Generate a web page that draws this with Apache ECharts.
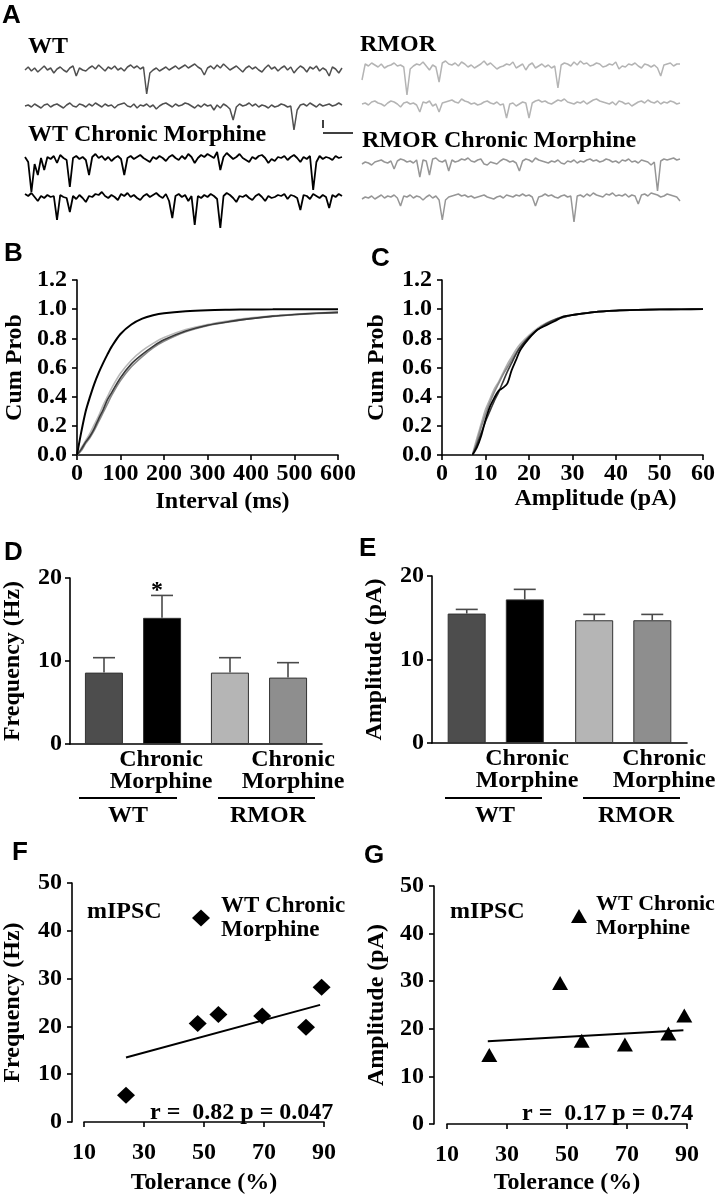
<!DOCTYPE html>
<html><head><meta charset="utf-8">
<script src="https://cdn.jsdelivr.net/npm/echarts@6/dist/echarts.min.js"></script>
<style>html,body{margin:0;padding:0;background:#fff}#c{width:718px;height:1199px}</style>
</head><body><div id="c"></div>
<script>
// ---------- Panel A: example mIPSC traces (hand-read, px-like units, 0 = baseline, negative = inward) ----------
const traceWT1 = [0,3,-1,2,-2,1,4,0,2,-3, 1,3,0,-2,2,4,-6,2,0,-1, 2,4,1,5,2,-1,3,1,4,0, 2,-1,3,5,2,4,1,3,-24,-3,
  0,2,-1,1,3,0,2,4,1,3, 5,2,4,6,3,1,-5,2,4,1, 5,2,6,3,0,2,4,1,-2,2, 4,1,3,0,-2,2,5,1,3,-1, 2,4,0,3,-3,1,4,2,-2,3, 1,4,-1,2,0,-6,3,1,-3,2];
const traceWT2 = [0,1,-1,2,0,-2,1,2,-1,1, 2,0,-2,1,3,0,-1,2,1,-1, 2,0,3,1,-1,2,0,1,-2,1, 2,3,0,-1,2,-2,1,0,2,-1,
  1,-3,0,2,3,1,-1,2,0,1, 3,2,0,-2,1,-1,2,0,1,-4, 1,-2,2,0,-3,-14,-1,2,0,1, 3,0,2,-1,1,0,-2,1,-1,0, 2,1,-1,0,-24,-4,1,2,0,3, 1,-1,2,0,1,2,0,1,3,1];
const traceWTCM1 = [3,-2,-32,-4,-15,2,-10,3,1,4, -3,5,2,0,-27,2,4,1,3,0, -15,3,6,2,4,0,3,-1,2,4, 1,-15,2,4,1,3,5,2,0,-2,
  3,1,4,2,-1,3,5,2,0,4, 1,6,3,-3,2,5,3,6,4,2, 8,-10,3,7,4,1,3,6,2,0, -2,3,1,4,5,2,-3,1,-1,3, 2,4,0,3,5,2,-2,3,1,4, -30,-2,4,1,3,2,0,4,2,3];
const traceWTCM2 = [4,2,5,1,-3,2,0,3,1,2, -22,3,1,0,-14,2,-1,3,0,-4, 2,1,4,3,6,2,0,3,1,-2, 4,2,5,1,3,0,-2,2,4,1,
  3,5,2,0,4,-3,-20,2,4,1, 3,-3,2,-27,2,0,3,1,4,2, -1,-30,2,5,3,0,-4,2,1,3, 0,-2,2,4,1,-3,2,0,1,3, 2,4,-1,3,2,0,-12,3,2,-1, 4,2,0,3,1,-10,3,1,4,2];
const traceRMOR1 = [-13,3,1,4,2,0,3,-1,1,2, 4,1,2,0,-28,-2,1,3,2,5, 1,-3,2,0,-15,4,6,3,2,4, 1,5,3,0,2,-1,1,3,6,2,
  4,1,-2,0,1,3,2,5,-1,1, 3,-3,2,4,-1,1,3,0,2,-1, 1,-21,2,4,3,1,5,2,6,3, 4,1,2,4,3,0,1,3,2,5, -2,1,0,3,2,4,1,-1,3,2, 0,2,-1,-9,2,3,4,1,3,3];
const traceRMOR2 = [0,1,-1,2,3,1,0,-2,1,3, 2,0,-3,1,2,0,1,-1,-8,2, 1,3,-2,0,-8,1,2,3,4,2, 1,5,3,2,0,1,-1,0,2,3,
  1,0,2,-1,0,-14,0,1,-2,0, 2,1,-14,1,3,4,2,3,1,0, 2,4,3,5,2,1,0,2,1,3, 0,2,4,5,3,2,1,0,2,-1, 3,2,0,1,-2,0,2,3,1,4, 2,1,3,0,2,1,3,2,0,1];
const traceRMORCM1 = [-1,1,0,-2,1,2,3,1,0,2, -6,2,4,3,1,2,0,3,-14,3, 2,-12,4,5,2,1,3,-8,3,1, 2,4,3,5,2,1,3,4,-1,-2,
  1,0,-1,2,4,3,1,2,0,-8, 2,4,3,1,5,3,2,1,0,2, 1,3,0,-1,2,1,3,0,2,1, 3,4,2,3,1,2,4,3,1,2, 0,3,2,4,1,2,0,3,2,1, -2,1,-28,2,4,3,4,5,3,4];
const traceRMORCM2 = [-1,1,0,2,-1,1,3,0,2,1, 3,0,-8,2,1,3,0,2,1,-2, 1,3,0,2,-2,-22,-2,1,2,3, 4,2,3,1,2,0,1,2,3,1,
  0,-1,1,2,0,3,2,1,3,2, 4,2,3,1,-8,1,2,4,2,3, 1,0,2,3,1,2,-24,2,3,1, 4,2,5,3,2,1,4,3,5,2, 3,2,4,1,3,2,-6,3,4,2, 5,4,3,1,2,4,3,2,1,-3];

// ---------- Panel B: cumulative probability vs inter-event interval ----------
const intervalMs = [0,10,20,30,40,50,60,70,80,100,125,150,175,200,250,300,350,400,450,500,550,600];
const cumIntWTCM   = [0,0.16,0.30,0.40,0.49,0.565,0.63,0.69,0.745,0.83,0.895,0.935,0.958,0.972,0.986,0.993,0.996,0.998,0.999,1,1,1];
const cumIntWT     = [0,0.04,0.09,0.13,0.185,0.25,0.31,0.38,0.43,0.53,0.625,0.69,0.745,0.79,0.85,0.89,0.915,0.935,0.952,0.963,0.972,0.978];
const cumIntRMOR   = [0,0.05,0.10,0.15,0.21,0.27,0.34,0.40,0.46,0.56,0.65,0.715,0.765,0.805,0.86,0.895,0.92,0.94,0.955,0.965,0.973,0.98];
const cumIntRMORCM = [0,0.03,0.08,0.12,0.17,0.23,0.29,0.35,0.41,0.51,0.605,0.675,0.735,0.78,0.845,0.887,0.913,0.935,0.95,0.962,0.97,0.976];

// ---------- Panel C: cumulative probability vs amplitude ----------
const amplitudePA = [7,8,9,10,11,12,13,14,15,16,17,18,20,22,24,26,28,30,35,40,45,50,55,60];
const cumAmpRMOR   = [0,0.11,0.21,0.31,0.38,0.45,0.5,0.56,0.62,0.67,0.72,0.76,0.82,0.87,0.905,0.93,0.95,0.96,0.98,0.99,0.995,0.998,0.999,1];
const cumAmpWTCM   = [0,0.05,0.13,0.24,0.33,0.39,0.44,0.46,0.49,0.58,0.65,0.72,0.8,0.86,0.89,0.92,0.95,0.96,0.98,0.99,0.995,0.998,0.999,1];
const cumAmpWT     = [0,0.07,0.15,0.23,0.3,0.37,0.43,0.5,0.57,0.63,0.69,0.74,0.81,0.86,0.9,0.93,0.945,0.96,0.98,0.99,0.995,0.998,0.999,1];
const cumAmpRMORCM = [0,0.09,0.19,0.28,0.36,0.43,0.49,0.55,0.6,0.65,0.7,0.74,0.8,0.86,0.9,0.925,0.945,0.96,0.98,0.99,0.995,0.998,0.999,1];

// ---------- Panels D / E: bar means and SEM ----------
const genotypes = ['WT', 'RMOR'];
const freqControl = [8.6, 8.6];
const freqControlSem = [1.8, 1.8];
const freqChronic = [15.2, 8.0];
const freqChronicSem = [2.7, 1.8];
const ampControl = [15.5, 14.7];
const ampControlSem = [0.5, 0.7];
const ampChronic = [17.2, 14.7];
const ampChronicSem = [1.2, 0.7];

// ---------- Panels F / G: tolerance correlations ----------
const tolerancePct = [24, 47.9, 54.8, 69.4, 84, 89.2];
const freqHz = [5.6, 20.6, 22.5, 22.2, 19.8, 28.2];
const fitFreqX = [24, 88.7];
const fitFreqY = [13.5, 24.5];
const toleranceAmpPct = [24.1, 47.7, 54.9, 69.3, 83.8, 89.1];
const ampPA = [14.5, 29.6, 17.5, 16.7, 19.0, 22.8];
const fitAmpX = [23.6, 88.8];
const fitAmpY = [17.4, 19.7];
const tolTicks = [10, 90, 20];   // min, max, interval
const yTicksFG = [0, 50, 10];

// ---------- styles ----------
const SERIF = '"Liberation Serif","Times New Roman",serif';
const SANS = '"Liberation Sans",Arial,sans-serif';
const FS = 24;
const lbl = (m) => ({color:'#000', fontFamily:SERIF, fontWeight:'bold', fontSize:FS, margin:m, showMinLabel:true, showMaxLabel:true, hideOverlap:false});
const axLine = {show:true, lineStyle:{color:'#000', width:1.6}};
const tick = {show:true, inside:false, length:5, lineStyle:{color:'#000', width:1.6}};
const nameStyle = (pad) => ({color:'#000', fontFamily:SERIF, fontWeight:'bold', fontSize:FS, padding:pad||0});

const grids = [
  {left:77, top:280, width:261, height:175},   // 0 B
  {left:442, top:280, width:263, height:175},  // 1 C
  {left:70, top:578, width:252, height:166},   // 2 D
  {left:432, top:576, width:255, height:167},  // 3 E
  {left:84, top:883, width:240, height:239},   // 4 F
  {left:447, top:886, width:240, height:238},  // 5 G
];
const xAxes = [], yAxes = [], series = [];

// Panel B axes
xAxes.push({gridIndex:0, type:'value', min:0, max:600, interval:100, axisLine:axLine, axisTick:tick, axisLabel:lbl(7), splitLine:{show:false},
  name:'Interval (ms)', nameLocation:'middle', nameGap:35, nameTextStyle:nameStyle([0,0,0,30])});
yAxes.push({gridIndex:0, type:'value', min:0, max:1.2, interval:0.2, axisLine:axLine, axisTick:tick, splitLine:{show:false},
  axisLabel:Object.assign(lbl(10), {formatter:v=>v.toFixed(1)}), name:'Cum Prob', nameLocation:'middle', nameGap:50, nameTextStyle:nameStyle()});
// Panel C axes
xAxes.push({gridIndex:1, type:'value', min:0, max:60, interval:10, axisLine:axLine, axisTick:tick, axisLabel:lbl(7), splitLine:{show:false},
  name:'Amplitude (pA)', nameLocation:'middle', nameGap:28, nameTextStyle:nameStyle([0,0,0,46])});
yAxes.push({gridIndex:1, type:'value', min:0, max:1.2, interval:0.2, axisLine:axLine, axisTick:tick, splitLine:{show:false},
  axisLabel:Object.assign(lbl(10), {formatter:v=>v.toFixed(1)}), name:'Cum Prob', nameLocation:'middle', nameGap:53, nameTextStyle:nameStyle()});
// Panel D axes
xAxes.push({gridIndex:2, type:'category', data:genotypes, axisLine:axLine, axisTick:{show:false}, axisLabel:{show:false}});
yAxes.push({gridIndex:2, type:'value', min:0, max:20, interval:10, axisLine:axLine, axisTick:tick, axisLabel:lbl(8), splitLine:{show:false},
  name:'Frequency (Hz)', nameLocation:'middle', nameGap:45, nameTextStyle:nameStyle()});
// Panel E axes
xAxes.push({gridIndex:3, type:'category', data:genotypes, axisLine:axLine, axisTick:{show:false}, axisLabel:{show:false}});
yAxes.push({gridIndex:3, type:'value', min:0, max:20, interval:10, axisLine:axLine, axisTick:tick, axisLabel:lbl(8), splitLine:{show:false},
  name:'Amplitude (pA)', nameLocation:'middle', nameGap:45, nameTextStyle:nameStyle()});
// Panel F axes
xAxes.push({gridIndex:4, type:'value', min:tolTicks[0], max:tolTicks[1], interval:tolTicks[2], offset:13, axisLine:axLine, axisTick:tick, axisLabel:lbl(6), splitLine:{show:false},
  name:'Tolerance (%)', nameLocation:'middle', nameGap:36, nameTextStyle:nameStyle()});
yAxes.push({gridIndex:4, type:'value', min:yTicksFG[0], max:yTicksFG[1], interval:yTicksFG[2], offset:12, axisLine:axLine, axisTick:tick, axisLabel:lbl(10), splitLine:{show:false},
  name:'Frequency (Hz)', nameLocation:'middle', nameGap:47, nameTextStyle:nameStyle()});
// Panel G axes
xAxes.push({gridIndex:5, type:'value', min:tolTicks[0], max:tolTicks[1], interval:tolTicks[2], offset:13, axisLine:axLine, axisTick:tick, axisLabel:lbl(6), splitLine:{show:false},
  name:'Tolerance (%)', nameLocation:'middle', nameGap:34, nameTextStyle:nameStyle()});
yAxes.push({gridIndex:5, type:'value', min:yTicksFG[0], max:yTicksFG[1], interval:yTicksFG[2], offset:13, axisLine:axLine, axisTick:tick, axisLabel:lbl(10), splitLine:{show:false},
  name:'Amplitude (pA)', nameLocation:'middle', nameGap:45, nameTextStyle:nameStyle()});

// Panel B, C curves
const curve = (xi, xs, ys, color, w, z) => ({type:'line', xAxisIndex:xi, yAxisIndex:xi, data:xs.map((x,i)=>[x, ys[i]]),
  symbol:'none', smooth:0.3, lineStyle:{color:color, width:w}, z:z, silent:true});
series.push(curve(0, intervalMs, cumIntRMOR, '#b8b8b8', 1.6, 2));
series.push(curve(0, intervalMs, cumIntRMORCM, '#8a8a8a', 1.6, 2));
series.push(curve(0, intervalMs, cumIntWT, '#3a3a3a', 1.6, 3));
series.push(curve(0, intervalMs, cumIntWTCM, '#000000', 2, 4));
series.push(curve(1, amplitudePA, cumAmpRMOR, '#b0b0b0', 1.8, 2));
series.push(curve(1, amplitudePA, cumAmpRMORCM, '#8a8a8a', 1.6, 2));
series.push(curve(1, amplitudePA, cumAmpWT, '#3a3a3a', 1.6, 3));
series.push(curve(1, amplitudePA, cumAmpWTCM, '#000000', 1.8, 4));

// Panel D, E bars + error bars
const ctrlColors = ['#4d4d4d', '#b5b5b5'];
const chronColors = ['#000000', '#8e8e8e'];
function bars(ai, vals, colors) {
  return {type:'bar', xAxisIndex:ai, yAxisIndex:ai, barWidth:38, barGap:'53%',
    data:vals.map((v,i)=>({value:v, itemStyle:{color:colors[i], borderColor:'#333', borderWidth:1, opacity:1}})), silent:true, z:2};
}
function errRender(offset) {
  return function(params, api) {
    const x = api.value(0), v = api.value(1), e = api.value(2);
    const p0 = api.coord([x, v]); const p1 = api.coord([x, v + e]);
    const cx = p0[0] + offset;
    const st = {stroke:'#4a4a4a', lineWidth:1.6};
    return {type:'group', children:[
      {type:'line', shape:{x1:cx, y1:p0[1], x2:cx, y2:p1[1]}, style:st},
      {type:'line', shape:{x1:cx-11, y1:p1[1], x2:cx+11, y2:p1[1]}, style:st}
    ]};
  };
}
function errs(ai, vals, sems, offset) {
  return {type:'custom', xAxisIndex:ai, yAxisIndex:ai, renderItem:errRender(offset),
    data:vals.map((v,i)=>[i, v, sems[i]]), silent:true, z:3};
}
series.push(bars(2, freqControl, ctrlColors), bars(2, freqChronic, chronColors));
series.push(errs(2, freqControl, freqControlSem, -29), errs(2, freqChronic, freqChronicSem, 29));
series.push(bars(3, ampControl, ctrlColors), bars(3, ampChronic, chronColors));
series.push(errs(3, ampControl, ampControlSem, -29), errs(3, ampChronic, ampChronicSem, 29));

// Panel F, G scatter + fits
series.push({type:'scatter', name:'freqCM', xAxisIndex:4, yAxisIndex:4, symbol:'diamond', symbolSize:[18,17],
  itemStyle:{color:'#000', opacity:1}, data:tolerancePct.map((t,i)=>[t, freqHz[i]]), z:4, silent:true});
series.push({type:'line', xAxisIndex:4, yAxisIndex:4, symbol:'none', lineStyle:{color:'#000', width:2},
  data:fitFreqX.map((t,i)=>[t, fitFreqY[i]]), z:3, silent:true});
series.push({type:'scatter', name:'ampCM', xAxisIndex:5, yAxisIndex:5, symbol:'triangle', symbolSize:[16,14],
  itemStyle:{color:'#000', opacity:1}, data:toleranceAmpPct.map((t,i)=>[t, ampPA[i]]), z:4, silent:true});
series.push({type:'line', xAxisIndex:5, yAxisIndex:5, symbol:'none', lineStyle:{color:'#000', width:2},
  data:fitAmpX.map((t,i)=>[t, fitAmpY[i]]), z:3, silent:true});

// Panel A traces: each in its own hidden-axis grid
const traces = [
  {d:traceWT1, c:'#505050', w:1.5, left:25, cy:70, width:317},
  {d:traceWT2, c:'#505050', w:1.5, left:25, cy:106, width:317},
  {d:traceWTCM1, c:'#000000', w:1.8, left:25, cy:160, width:317},
  {d:traceWTCM2, c:'#000000', w:1.8, left:25, cy:198, width:317},
  {d:traceRMOR1, c:'#b4b4b4', w:1.5, left:362, cy:67, width:318},
  {d:traceRMOR2, c:'#b4b4b4', w:1.5, left:362, cy:104, width:318},
  {d:traceRMORCM1, c:'#969696', w:1.5, left:362, cy:163, width:318},
  {d:traceRMORCM2, c:'#969696', w:1.5, left:362, cy:198, width:318},
];
traces.forEach((t) => {
  const gi = grids.length;
  grids.push({left:t.left, top:t.cy - 8, width:t.width, height:42});
  xAxes.push({gridIndex:gi, type:'value', min:0, max:t.d.length - 1, show:false});
  yAxes.push({gridIndex:gi, type:'value', min:-34, max:8, show:false});
  series.push({type:'line', xAxisIndex:gi, yAxisIndex:gi, symbol:'none', silent:true,
    lineStyle:{color:t.c, width:t.w}, data:t.d.map((v,i)=>[i, v])});
});

// ---------- annotations ----------
const txt = (s, x, y, opts) => Object.assign({type:'text', x:x, y:y, silent:true,
  style:Object.assign({text:s, font:'bold ' + FS + 'px ' + SERIF, fill:'#000', align:'left', verticalAlign:'middle'}, opts || {})});
const letter = (s, x, y) => ({type:'text', x:x, y:y, silent:true,
  style:{text:s, font:'bold 26px ' + SANS, fill:'#000', align:'left', verticalAlign:'middle'}});
const hline = (x1, x2, y, w) => ({type:'line', silent:true, shape:{x1:x1, y1:y, x2:x2, y2:y}, style:{stroke:'#000', lineWidth:w || 2}});
const vline = (x, y1, y2) => ({type:'line', silent:true, shape:{x1:x, y1:y1, x2:x, y2:y2}, style:{stroke:'#000', lineWidth:1.5}});
const ctr = {align:'center'};
const cmText = {align:'center', lineHeight:22};

const graphics = [
  letter('A', 2, 16), letter('B', 4, 254), letter('C', 371, 259), letter('D', 4, 553),
  letter('E', 359, 549), letter('F', 12, 853), letter('G', 364, 856),
  txt('WT', 28, 47), txt('RMOR', 360, 45),
  txt('WT Chronic Morphine', 28, 135), txt('RMOR Chronic Morphine', 362, 141),
  vline(323, 120, 128), hline(323, 353, 133, 1.5),
  // D
  txt('*', 157, 591, ctr),
  txt('Chronic\nMorphine', 161, 771, cmText), txt('Chronic\nMorphine', 293, 771, cmText),
  hline(79, 177, 798), hline(218, 315, 798),
  txt('WT', 128, 816, ctr), txt('RMOR', 268, 816, ctr),
  // E
  txt('Chronic\nMorphine', 527, 770, cmText), txt('Chronic\nMorphine', 664, 770, cmText),
  hline(445, 542, 798), hline(583, 680, 798),
  txt('WT', 495, 816, ctr), txt('RMOR', 636, 816, ctr),
  // F, G
  txt('mIPSC', 87, 912), txt('r =  0.82 p = 0.047', 150, 1113),
  txt('mIPSC', 450, 912), txt('r =  0.17 p = 0.74', 522, 1114),
];

const legendText = (fs) => ({color:'#000', fontFamily:SERIF, fontWeight:'bold', fontSize:fs, lineHeight:24});
const option = {
  animation:false,
  backgroundColor:'#fff',
  grid:grids, xAxis:xAxes, yAxis:yAxes, series:series,
  legend:[
    {left:192, top:894, data:[{name:'freqCM', icon:'diamond'}], itemWidth:18, itemHeight:17, selectedMode:false,
      padding:0, formatter:()=>'WT Chronic\nMorphine', textStyle:Object.assign({padding:[0,0,0,6]}, legendText(23))},
    {left:571, top:892, data:[{name:'ampCM', icon:'triangle'}], itemWidth:16, itemHeight:14, selectedMode:false,
      padding:0, formatter:()=>'WT Chronic\nMorphine', textStyle:Object.assign({padding:[0,0,0,4]}, legendText(22))}
  ],
  graphic:graphics
};
const chart = echarts.init(document.getElementById('c'), null, {renderer:'canvas'});
chart.setOption(option);
</script>
</body></html>
